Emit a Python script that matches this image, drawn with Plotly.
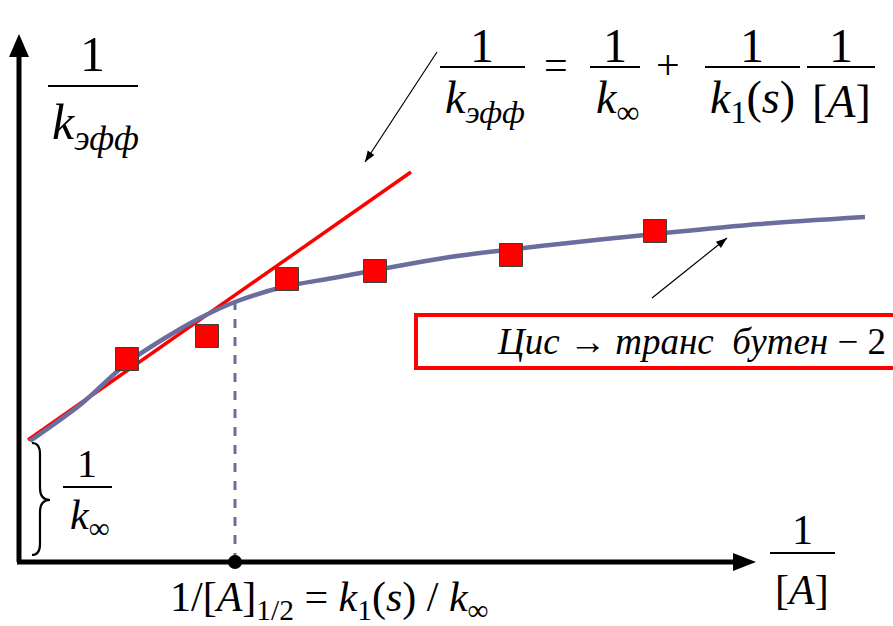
import math
import plotly.graph_objects as go

# ---- data (chart units: x = 1/[A], y = 1/k_eff, arbitrary) ----
x_points = [108, 188, 268, 356, 492, 636]
y_points = [203, 226, 283, 291, 307, 331]

x_curve = [11, 61, 108, 146, 181, 216, 264, 314, 431, 531, 636, 741, 846]
y_curve = [121, 157, 199, 224, 244, 260, 275, 284, 305, 317, 328, 338, 345]

x_tangent = [9, 392]
y_tangent = [122, 390]

x_half = 216          # 1/[A]_1/2
y_half_curve = 262

FONT = "Liberation Serif"
BLUE = "#6a6d9e"

fig = go.Figure()

fig.add_trace(go.Scatter(x=x_tangent, y=y_tangent, mode="lines",
                         line=dict(color="#ff0000", width=3.5), hoverinfo="skip"))
fig.add_trace(go.Scatter(x=x_curve, y=y_curve, mode="lines",
                         line=dict(color=BLUE, width=4.5, shape="spline", smoothing=0.8),
                         hoverinfo="skip"))
fig.add_trace(go.Scatter(x=[x_half, x_half], y=[0, y_half_curve], mode="lines",
                         line=dict(color=BLUE, width=3, dash="dash"), hoverinfo="skip"))
fig.add_trace(go.Scatter(x=x_points, y=y_points, mode="markers",
                         marker=dict(symbol="square", size=23, color="#ff0000",
                                     line=dict(color="#404040", width=1)),
                         hoverinfo="skip"))

shapes = []
shapes.append(dict(type="line", x0=0, y0=0, x1=0, y1=510, line=dict(color="black", width=5)))
shapes.append(dict(type="line", x0=-2, y0=0, x1=718, y1=0, line=dict(color="black", width=5)))
shapes.append(dict(type="path", path="M 0,528 L -10,505 L 10,505 Z",
                   fillcolor="black", line=dict(color="black", width=0)))
shapes.append(dict(type="path", path="M 737,0 L 714,-9 L 714,9 Z",
                   fillcolor="black", line=dict(color="black", width=0)))
shapes.append(dict(type="circle", x0=x_half - 7, x1=x_half + 7, y0=-7, y1=7,
                   fillcolor="black", line=dict(color="black", width=0)))
shapes.append(dict(type="path",
                   path="M 13,119 Q 21,119 21,108 L 21,74 Q 21,62 31,62 Q 21,62 21,50 L 21,18 Q 21,7 13,7",
                   line=dict(color="black", width=2.2)))
shapes.append(dict(type="rect", x0=397, x1=880, y0=194, y1=247,
                   line=dict(color="#ff0000", width=4)))

def bar(x0, x1, y):
    shapes.append(dict(type="line", x0=x0, x1=x1, y0=y, y1=y,
                       line=dict(color="black", width=2)))

bar(29, 119, 476)
bar(421, 506, 495)
bar(571, 621, 495)
bar(686, 781, 495)
bar(788, 856, 495)
bar(44, 93, 75)
bar(751, 816, 9)

# pointer arrows drawn as line + small filled head
def arrow(xs, ys, xe, ye, head=11, half=4):
    shapes.append(dict(type="line", x0=xs, y0=ys, x1=xe, y1=ye,
                       line=dict(color="black", width=1.2)))
    d = math.hypot(xe - xs, ye - ys)
    ux, uy = (xe - xs) / d, (ye - ys) / d
    bx, by = xe - ux * head, ye - uy * head
    px, py = -uy * half, ux * half
    shapes.append(dict(type="path",
                       path=f"M {xe},{ye} L {bx + px:.1f},{by + py:.1f} L {bx - px:.1f},{by - py:.1f} Z",
                       fillcolor="black", line=dict(color="black", width=0)))

arrow(418, 510, 346, 400)
arrow(633, 264, 708, 324)

ann = []
def txt(x, y, s, size, xanchor="center"):
    ann.append(dict(x=x, y=y, xref="x", yref="y", text=s,
                    showarrow=False, xanchor=xanchor, yanchor="middle",
                    font=dict(family=FONT, size=size, color="black")))

def sub(s):
    return f"<sub>{s}</sub>"

txt(73, 508, "1", 50)
txt(76, 436, "<i>k</i>" + sub("<i>эфф</i>"), 50)
txt(463, 517, "1", 48)
txt(466, 461, "<i>k</i>" + sub("<i>эфф</i>"), 46)
txt(537, 497, "=", 42)
txt(596, 517, "1", 48)
txt(598, 461, "<i>k</i>" + sub("∞"), 46)
txt(649, 497, "+", 42)
txt(733, 517, "1", 48)
txt(733, 461, "<i>k</i>" + sub("1") + "(<i>s</i>)", 46)
txt(822, 517, "1", 48)
txt(822, 461, "[<i>A</i>]", 46)
txt(68, 99, "1", 40)
txt(71, 44, "<i>k</i>" + sub("∞"), 42)
txt(783, 32, "1", 42)
txt(783, -28, "[<i>A</i>]", 42)
txt(310, -38, "1/[<i>A</i>]" + sub("1/2") + " = <i>k</i>" + sub("1") +
    "(<i>s</i>) / <i>k</i>" + sub("∞"), 42)
txt(869, 221, "<i>Цис</i> → <i>транс  бутен</i> − 2", 37, xanchor="right")

fig.update_layout(
    shapes=shapes,
    annotations=ann,
    width=893, height=626,
    margin=dict(l=0, r=0, t=0, b=0),
    paper_bgcolor="white", plot_bgcolor="white",
    showlegend=False,
    xaxis=dict(range=[-19, 874], visible=False, fixedrange=True),
    yaxis=dict(range=[-64, 562], visible=False, fixedrange=True),
)

fig.write_html("out.html", config={"displayModeBar": False},
               post_script="document.body.style.margin='0';")
